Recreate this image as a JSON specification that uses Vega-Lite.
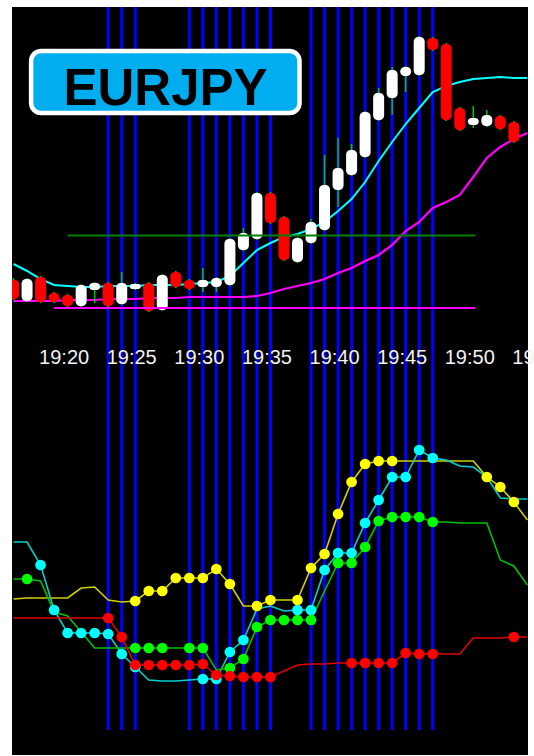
{
  "$schema": "https://vega.github.io/schema/vega-lite/v6.json",
  "width": 516,
  "height": 748,
  "autosize": {"type": "none"},
  "padding": {"left": 12, "top": 7, "right": 6, "bottom": 1},
  "background": "white",
  "config": {"view": {"fill": "black", "stroke": null}},
  "datasets": {
    "blue": [{"m":25},{"m":26},{"m":27},{"m":31},{"m":32},{"m":33},{"m":34},{"m":35},{"m":36},{"m":37},{"m":40},{"m":41},{"m":42},{"m":43},{"m":44},{"m":45},{"m":46},{"m":47},{"m":48},{"m":49}],
    "candles": [
      {"m":18,"o":157.100,"c":157.062,"h":157.104,"l":157.060,"dir":"down"},
      {"m":19,"o":157.058,"c":157.102,"h":157.104,"l":157.056,"dir":"up"},
      {"m":20,"o":157.106,"c":157.056,"h":157.108,"l":157.054,"dir":"down"},
      {"m":21,"o":157.074,"c":157.056,"h":157.076,"l":157.054,"dir":"down"},
      {"m":22,"o":157.070,"c":157.048,"h":157.072,"l":157.046,"dir":"down"},
      {"m":23,"o":157.048,"c":157.090,"h":157.092,"l":157.046,"dir":"up"},
      {"m":24,"o":157.080,"c":157.094,"h":157.096,"l":157.054,"dir":"up"},
      {"m":25,"o":157.094,"c":157.048,"h":157.096,"l":157.046,"dir":"down"},
      {"m":26,"o":157.052,"c":157.094,"h":157.116,"l":157.050,"dir":"up"},
      {"m":27,"o":157.082,"c":157.092,"h":157.094,"l":157.080,"dir":"up"},
      {"m":28,"o":157.094,"c":157.038,"h":157.096,"l":157.036,"dir":"down"},
      {"m":29,"o":157.040,"c":157.110,"h":157.112,"l":157.038,"dir":"up"},
      {"m":30,"o":157.116,"c":157.086,"h":157.118,"l":157.084,"dir":"down"},
      {"m":31,"o":157.100,"c":157.082,"h":157.102,"l":157.080,"dir":"down"},
      {"m":32,"o":157.086,"c":157.100,"h":157.124,"l":157.076,"dir":"up"},
      {"m":33,"o":157.086,"c":157.104,"h":157.106,"l":157.076,"dir":"up"},
      {"m":34,"o":157.090,"c":157.182,"h":157.184,"l":157.088,"dir":"up"},
      {"m":35,"o":157.160,"c":157.194,"h":157.204,"l":157.158,"dir":"up"},
      {"m":36,"o":157.182,"c":157.274,"h":157.276,"l":157.180,"dir":"up"},
      {"m":37,"o":157.274,"c":157.214,"h":157.276,"l":157.212,"dir":"down"},
      {"m":38,"o":157.226,"c":157.140,"h":157.228,"l":157.138,"dir":"down"},
      {"m":39,"o":157.136,"c":157.184,"h":157.186,"l":157.134,"dir":"up"},
      {"m":40,"o":157.174,"c":157.216,"h":157.222,"l":157.172,"dir":"up"},
      {"m":41,"o":157.200,"c":157.290,"h":157.350,"l":157.198,"dir":"up"},
      {"m":42,"o":157.280,"c":157.324,"h":157.384,"l":157.246,"dir":"up"},
      {"m":43,"o":157.310,"c":157.360,"h":157.372,"l":157.308,"dir":"up"},
      {"m":44,"o":157.346,"c":157.436,"h":157.438,"l":157.344,"dir":"up"},
      {"m":45,"o":157.420,"c":157.474,"h":157.484,"l":157.418,"dir":"up"},
      {"m":46,"o":157.464,"c":157.520,"h":157.526,"l":157.430,"dir":"up"},
      {"m":47,"o":157.508,"c":157.526,"h":157.528,"l":157.476,"dir":"up"},
      {"m":48,"o":157.510,"c":157.586,"h":157.588,"l":157.508,"dir":"up"},
      {"m":49,"o":157.584,"c":157.560,"h":157.586,"l":157.558,"dir":"down"},
      {"m":50,"o":157.572,"c":157.420,"h":157.574,"l":157.418,"dir":"down"},
      {"m":51,"o":157.444,"c":157.400,"h":157.446,"l":157.398,"dir":"down"},
      {"m":52,"o":157.410,"c":157.424,"h":157.448,"l":157.404,"dir":"up"},
      {"m":53,"o":157.408,"c":157.430,"h":157.440,"l":157.406,"dir":"up"},
      {"m":54,"o":157.428,"c":157.402,"h":157.430,"l":157.400,"dir":"down"},
      {"m":55,"o":157.416,"c":157.376,"h":157.418,"l":157.374,"dir":"down"}
    ],
    "ma": [
      {"m":18,"fast":157.132,"slow":157.058},{"m":19,"fast":157.118,"slow":157.058},{"m":20,"fast":157.102,"slow":157.058},
      {"m":21,"fast":157.090,"slow":157.058},{"m":22,"fast":157.088,"slow":157.060},{"m":23,"fast":157.086,"slow":157.060},
      {"m":24,"fast":157.086,"slow":157.060},{"m":25,"fast":157.088,"slow":157.062},{"m":26,"fast":157.088,"slow":157.062},
      {"m":27,"fast":157.088,"slow":157.062},{"m":28,"fast":157.090,"slow":157.064},{"m":29,"fast":157.090,"slow":157.064},
      {"m":30,"fast":157.090,"slow":157.064},{"m":31,"fast":157.092,"slow":157.066},{"m":32,"fast":157.094,"slow":157.066},
      {"m":33,"fast":157.096,"slow":157.066},{"m":34,"fast":157.108,"slow":157.066},{"m":35,"fast":157.134,"slow":157.066},
      {"m":36,"fast":157.160,"slow":157.068},{"m":37,"fast":157.174,"slow":157.074},{"m":38,"fast":157.186,"slow":157.082},
      {"m":39,"fast":157.192,"slow":157.088},{"m":40,"fast":157.202,"slow":157.094},{"m":41,"fast":157.216,"slow":157.102},
      {"m":42,"fast":157.238,"slow":157.114},{"m":43,"fast":157.262,"slow":157.124},{"m":44,"fast":157.296,"slow":157.138},
      {"m":45,"fast":157.338,"slow":157.150},{"m":46,"fast":157.376,"slow":157.170},{"m":47,"fast":157.412,"slow":157.198},
      {"m":48,"fast":157.444,"slow":157.216},{"m":49,"fast":157.476,"slow":157.244},{"m":50,"fast":157.488,"slow":157.256},
      {"m":51,"fast":157.496,"slow":157.270},{"m":52,"fast":157.502,"slow":157.306},{"m":53,"fast":157.504,"slow":157.344},
      {"m":54,"fast":157.506,"slow":157.366},{"m":55,"fast":157.504,"slow":157.382},{"m":56,"fast":157.504,"slow":157.394}
    ],
    "levels": [
      {"m":22,"m_end":52.15,"p":157.189,"k":"green"},
      {"m":21,"m_end":52.15,"p":157.044,"k":"magenta"}
    ],
    "box": [{"m":19.3,"m_end":39.15,"p1":157.434,"p2":157.558}],
    "label": [{"m":29.242,"p":157.450,"text":"EURJPY"}],
    "lower": [
      {"m":18,"s":"yellow","v":40.33,"d":0},{"m":19,"s":"yellow","v":40.67,"d":0},{"m":20,"s":"yellow","v":40.67,"d":0},
      {"m":21,"s":"yellow","v":40.67,"d":0},{"m":22,"s":"yellow","v":40.67,"d":0},{"m":23,"s":"yellow","v":44.00,"d":0},
      {"m":24,"s":"yellow","v":44.33,"d":0},{"m":25,"s":"yellow","v":40.00,"d":0},{"m":26,"s":"yellow","v":39.33,"d":0},
      {"m":27,"s":"yellow","v":39.67,"d":1},{"m":28,"s":"yellow","v":43.00,"d":1},{"m":29,"s":"yellow","v":43.00,"d":1},
      {"m":30,"s":"yellow","v":47.33,"d":1},{"m":31,"s":"yellow","v":47.33,"d":1},{"m":32,"s":"yellow","v":47.33,"d":1},
      {"m":33,"s":"yellow","v":50.33,"d":1},{"m":34,"s":"yellow","v":45.33,"d":1},{"m":35,"s":"yellow","v":38.00,"d":0},
      {"m":36,"s":"yellow","v":38.00,"d":1},{"m":37,"s":"yellow","v":40.00,"d":1},{"m":38,"s":"yellow","v":40.00,"d":0},
      {"m":39,"s":"yellow","v":40.00,"d":1},{"m":40,"s":"yellow","v":50.67,"d":1},{"m":41,"s":"yellow","v":55.33,"d":1},
      {"m":42,"s":"yellow","v":68.67,"d":1},{"m":43,"s":"yellow","v":79.33,"d":1},{"m":44,"s":"yellow","v":85.33,"d":1},
      {"m":45,"s":"yellow","v":86.33,"d":1},{"m":46,"s":"yellow","v":86.33,"d":1},{"m":47,"s":"yellow","v":86.33,"d":0},
      {"m":48,"s":"yellow","v":86.33,"d":0},{"m":49,"s":"yellow","v":86.33,"d":0},{"m":50,"s":"yellow","v":86.33,"d":0},
      {"m":51,"s":"yellow","v":86.33,"d":0},{"m":52,"s":"yellow","v":86.33,"d":0},{"m":53,"s":"yellow","v":81.00,"d":1},
      {"m":54,"s":"yellow","v":77.67,"d":1},{"m":55,"s":"yellow","v":72.67,"d":1},{"m":56,"s":"yellow","v":66.67,"d":0},

      {"m":18,"s":"cyan","v":59.33,"d":0},{"m":19,"s":"cyan","v":59.33,"d":0},{"m":20,"s":"cyan","v":51.67,"d":1},
      {"m":21,"s":"cyan","v":36.67,"d":1},{"m":22,"s":"cyan","v":29.00,"d":1},{"m":23,"s":"cyan","v":29.00,"d":1},
      {"m":24,"s":"cyan","v":29.00,"d":1},{"m":25,"s":"cyan","v":28.67,"d":1},{"m":26,"s":"cyan","v":22.00,"d":1},
      {"m":27,"s":"cyan","v":17.67,"d":1},{"m":28,"s":"cyan","v":13.33,"d":0},{"m":29,"s":"cyan","v":13.00,"d":0},
      {"m":30,"s":"cyan","v":13.00,"d":0},{"m":31,"s":"cyan","v":13.33,"d":0},{"m":32,"s":"cyan","v":13.67,"d":1},
      {"m":33,"s":"cyan","v":13.67,"d":1},{"m":34,"s":"cyan","v":22.67,"d":1},{"m":35,"s":"cyan","v":26.67,"d":1},
      {"m":36,"s":"cyan","v":37.00,"d":0},{"m":37,"s":"cyan","v":38.00,"d":0},{"m":38,"s":"cyan","v":36.33,"d":0},
      {"m":39,"s":"cyan","v":36.67,"d":1},{"m":40,"s":"cyan","v":36.67,"d":1},{"m":41,"s":"cyan","v":50.00,"d":1},
      {"m":42,"s":"cyan","v":55.67,"d":1},{"m":43,"s":"cyan","v":55.67,"d":1},{"m":44,"s":"cyan","v":65.67,"d":1},
      {"m":45,"s":"cyan","v":73.33,"d":1},{"m":46,"s":"cyan","v":81.00,"d":1},{"m":47,"s":"cyan","v":81.00,"d":1},
      {"m":48,"s":"cyan","v":90.00,"d":1},{"m":49,"s":"cyan","v":87.33,"d":1},{"m":50,"s":"cyan","v":86.67,"d":0},
      {"m":51,"s":"cyan","v":84.67,"d":0},{"m":52,"s":"cyan","v":84.33,"d":0},{"m":53,"s":"cyan","v":81.00,"d":0},
      {"m":54,"s":"cyan","v":74.00,"d":0},{"m":55,"s":"cyan","v":73.67,"d":0},{"m":56,"s":"cyan","v":73.67,"d":0},

      {"m":18,"s":"green","v":47.00,"d":0},{"m":19,"s":"green","v":47.00,"d":1},{"m":20,"s":"green","v":46.33,"d":0},
      {"m":21,"s":"green","v":36.00,"d":0},{"m":22,"s":"green","v":34.67,"d":0},{"m":23,"s":"green","v":29.33,"d":0},
      {"m":24,"s":"green","v":24.00,"d":0},{"m":25,"s":"green","v":24.00,"d":0},{"m":26,"s":"green","v":24.00,"d":0},
      {"m":27,"s":"green","v":24.00,"d":1},{"m":28,"s":"green","v":24.00,"d":1},{"m":29,"s":"green","v":24.00,"d":1},
      {"m":30,"s":"green","v":24.00,"d":0},{"m":31,"s":"green","v":24.00,"d":1},{"m":32,"s":"green","v":24.00,"d":1},
      {"m":33,"s":"green","v":16.67,"d":0},{"m":34,"s":"green","v":17.33,"d":1},{"m":35,"s":"green","v":20.33,"d":1},
      {"m":36,"s":"green","v":31.00,"d":1},{"m":37,"s":"green","v":33.33,"d":1},{"m":38,"s":"green","v":33.33,"d":1},
      {"m":39,"s":"green","v":33.33,"d":1},{"m":40,"s":"green","v":33.33,"d":1},{"m":41,"s":"green","v":43.00,"d":0},
      {"m":42,"s":"green","v":52.33,"d":1},{"m":43,"s":"green","v":52.33,"d":1},{"m":44,"s":"green","v":57.67,"d":1},
      {"m":45,"s":"green","v":66.33,"d":1},{"m":46,"s":"green","v":67.67,"d":1},{"m":47,"s":"green","v":67.67,"d":1},
      {"m":48,"s":"green","v":67.67,"d":1},{"m":49,"s":"green","v":66.00,"d":1},{"m":50,"s":"green","v":66.00,"d":0},
      {"m":51,"s":"green","v":65.67,"d":0},{"m":52,"s":"green","v":65.67,"d":0},{"m":53,"s":"green","v":65.67,"d":0},
      {"m":54,"s":"green","v":53.33,"d":0},{"m":55,"s":"green","v":51.33,"d":0},{"m":56,"s":"green","v":45.00,"d":0},

      {"m":18,"s":"red","v":34.00,"d":0},{"m":19,"s":"red","v":34.00,"d":0},{"m":20,"s":"red","v":34.00,"d":0},
      {"m":21,"s":"red","v":34.00,"d":0},{"m":22,"s":"red","v":34.00,"d":0},{"m":23,"s":"red","v":34.00,"d":0},
      {"m":24,"s":"red","v":34.00,"d":0},{"m":25,"s":"red","v":34.00,"d":1},{"m":26,"s":"red","v":27.67,"d":1},
      {"m":27,"s":"red","v":18.33,"d":1},{"m":28,"s":"red","v":18.33,"d":1},{"m":29,"s":"red","v":18.33,"d":1},
      {"m":30,"s":"red","v":18.33,"d":1},{"m":31,"s":"red","v":18.33,"d":1},{"m":32,"s":"red","v":18.67,"d":1},
      {"m":33,"s":"red","v":15.00,"d":1},{"m":34,"s":"red","v":14.67,"d":1},{"m":35,"s":"red","v":14.33,"d":1},
      {"m":36,"s":"red","v":14.33,"d":1},{"m":37,"s":"red","v":14.33,"d":1},{"m":38,"s":"red","v":16.33,"d":0},
      {"m":39,"s":"red","v":18.33,"d":0},{"m":40,"s":"red","v":18.67,"d":0},{"m":41,"s":"red","v":18.67,"d":0},
      {"m":42,"s":"red","v":19.00,"d":0},{"m":43,"s":"red","v":19.00,"d":1},{"m":44,"s":"red","v":19.00,"d":1},
      {"m":45,"s":"red","v":19.00,"d":1},{"m":46,"s":"red","v":19.00,"d":1},{"m":47,"s":"red","v":22.33,"d":1},
      {"m":48,"s":"red","v":22.00,"d":1},{"m":49,"s":"red","v":22.00,"d":1},{"m":50,"s":"red","v":22.00,"d":0},
      {"m":51,"s":"red","v":22.00,"d":0},{"m":52,"s":"red","v":27.33,"d":0},{"m":53,"s":"red","v":27.33,"d":0},
      {"m":54,"s":"red","v":27.33,"d":0},{"m":55,"s":"red","v":27.67,"d":1},{"m":56,"s":"red","v":27.67,"d":0}
    ]
  },
  "encoding": {
    "x": {
      "field": "m",
      "type": "quantitative",
      "scale": {"domain": [18.256, 55.676], "nice": false, "zero": false},
      "axis": {
        "values": [20, 25, 30, 35, 40, 45, 50, 55],
        "labelExpr": "'19:' + (datum.value < 10 ? '0' : '') + datum.value",
        "orient": "bottom",
        "offset": -408,
        "domain": false,
        "ticks": false,
        "grid": false,
        "title": null,
        "labelAlign": "left",
        "labelBaseline": "top",
        "labelPadding": 0,
        "labelOffset": -2,
        "labelFont": "Liberation Sans",
        "labelFontSize": 20,
        "labelColor": "#f2f2f2",
        "labelOverlap": false,
        "labelFlush": false,
        "labelBound": false,
        "zindex": 1
      }
    }
  },
  "layer": [
    {
      "data": {"name": "blue"},
      "mark": {"type": "rule", "color": "#0000ff", "strokeWidth": 3},
      "encoding": {
        "y": {"datum": 237.667, "type": "quantitative", "scale": {"domain": [-11.667, 237.667], "nice": false, "zero": false}, "axis": null},
        "y2": {"datum": -3.333}
      }
    },
    {
      "layer": [
        {
          "data": {"name": "ma"},
          "mark": {"type": "line", "color": "#00ffff", "strokeWidth": 2, "clip": true},
          "encoding": {"y": {"field": "fast", "type": "quantitative", "scale": {"domain": [156.15, 157.646], "nice": false, "zero": false}, "axis": null}}
        },
        {
          "data": {"name": "ma"},
          "mark": {"type": "line", "color": "#ff00ff", "strokeWidth": 2.2, "clip": true},
          "encoding": {"y": {"field": "slow", "type": "quantitative", "scale": {"domain": [156.15, 157.646], "nice": false, "zero": false}, "axis": null}}
        },
        {
          "data": {"name": "candles"},
          "mark": {"type": "rule", "color": "#00c800", "strokeWidth": 1.5, "clip": true},
          "encoding": {
            "y": {"field": "l", "type": "quantitative", "scale": {"domain": [156.15, 157.646], "nice": false, "zero": false}, "axis": null},
            "y2": {"field": "h"}
          }
        },
        {
          "data": {"name": "candles"},
          "mark": {"type": "bar", "size": 11, "cornerRadius": 4.5, "clip": true},
          "encoding": {
            "y": {"field": "o", "type": "quantitative", "scale": {"domain": [156.15, 157.646], "nice": false, "zero": false}, "axis": null},
            "y2": {"field": "c"},
            "color": {"field": "dir", "type": "nominal", "scale": {"domain": ["up", "down"], "range": ["#ffffff", "#ff0000"]}, "legend": null}
          }
        },
        {
          "data": {"name": "levels"},
          "transform": [{"filter": "datum.k == 'green'"}],
          "mark": {"type": "rule", "color": "#008000", "strokeWidth": 2},
          "encoding": {
            "x2": {"field": "m_end"},
            "y": {"field": "p", "type": "quantitative", "scale": {"domain": [156.15, 157.646], "nice": false, "zero": false}, "axis": null}
          }
        },
        {
          "data": {"name": "levels"},
          "transform": [{"filter": "datum.k == 'magenta'"}],
          "mark": {"type": "rule", "color": "#ff00ff", "strokeWidth": 2},
          "encoding": {
            "x2": {"field": "m_end"},
            "y": {"field": "p", "type": "quantitative", "scale": {"domain": [156.15, 157.646], "nice": false, "zero": false}, "axis": null}
          }
        },
        {
          "data": {"name": "box"},
          "mark": {"type": "rect", "fill": "#00aeef", "stroke": "#ffffff", "strokeWidth": 4.5, "cornerRadius": 10},
          "encoding": {
            "x2": {"field": "m_end"},
            "y": {"field": "p1", "type": "quantitative", "scale": {"domain": [156.15, 157.646], "nice": false, "zero": false}, "axis": null},
            "y2": {"field": "p2"}
          }
        },
        {
          "data": {"name": "label"},
          "mark": {"type": "text", "font": "Liberation Sans", "fontSize": 51, "fontWeight": "bold", "color": "#000000", "align": "center", "baseline": "alphabetic"},
          "encoding": {
            "y": {"field": "p", "type": "quantitative", "scale": {"domain": [156.15, 157.646], "nice": false, "zero": false}, "axis": null},
            "text": {"field": "text"}
          }
        }
      ]
    },
    {
      "layer": [
        {
          "data": {"name": "lower"},
          "mark": {"type": "line", "strokeWidth": 1.6, "clip": true},
          "encoding": {
            "y": {"field": "v", "type": "quantitative", "scale": {"domain": [-11.667, 237.667], "nice": false, "zero": false}, "axis": null},
            "stroke": {"field": "s", "type": "nominal", "scale": {"domain": ["yellow", "cyan", "green", "red"], "range": ["#d0d000", "#00d0d0", "#00c000", "#e00000"]}, "legend": null}
          }
        },
        {
          "data": {"name": "lower"},
          "transform": [{"filter": "datum.d == 1"}],
          "mark": {"type": "point", "filled": true, "size": 115, "opacity": 1, "strokeWidth": 0, "clip": true},
          "encoding": {
            "y": {"field": "v", "type": "quantitative", "scale": {"domain": [-11.667, 237.667], "nice": false, "zero": false}, "axis": null},
            "fill": {"field": "s", "type": "nominal", "scale": {"domain": ["yellow", "cyan", "green", "red"], "range": ["#ffff00", "#00ffff", "#00ff00", "#ff0000"]}, "legend": null}
          }
        }
      ]
    }
  ],
  "resolve": {"scale": {"y": "independent", "color": "independent", "fill": "independent", "stroke": "independent"}}
}
